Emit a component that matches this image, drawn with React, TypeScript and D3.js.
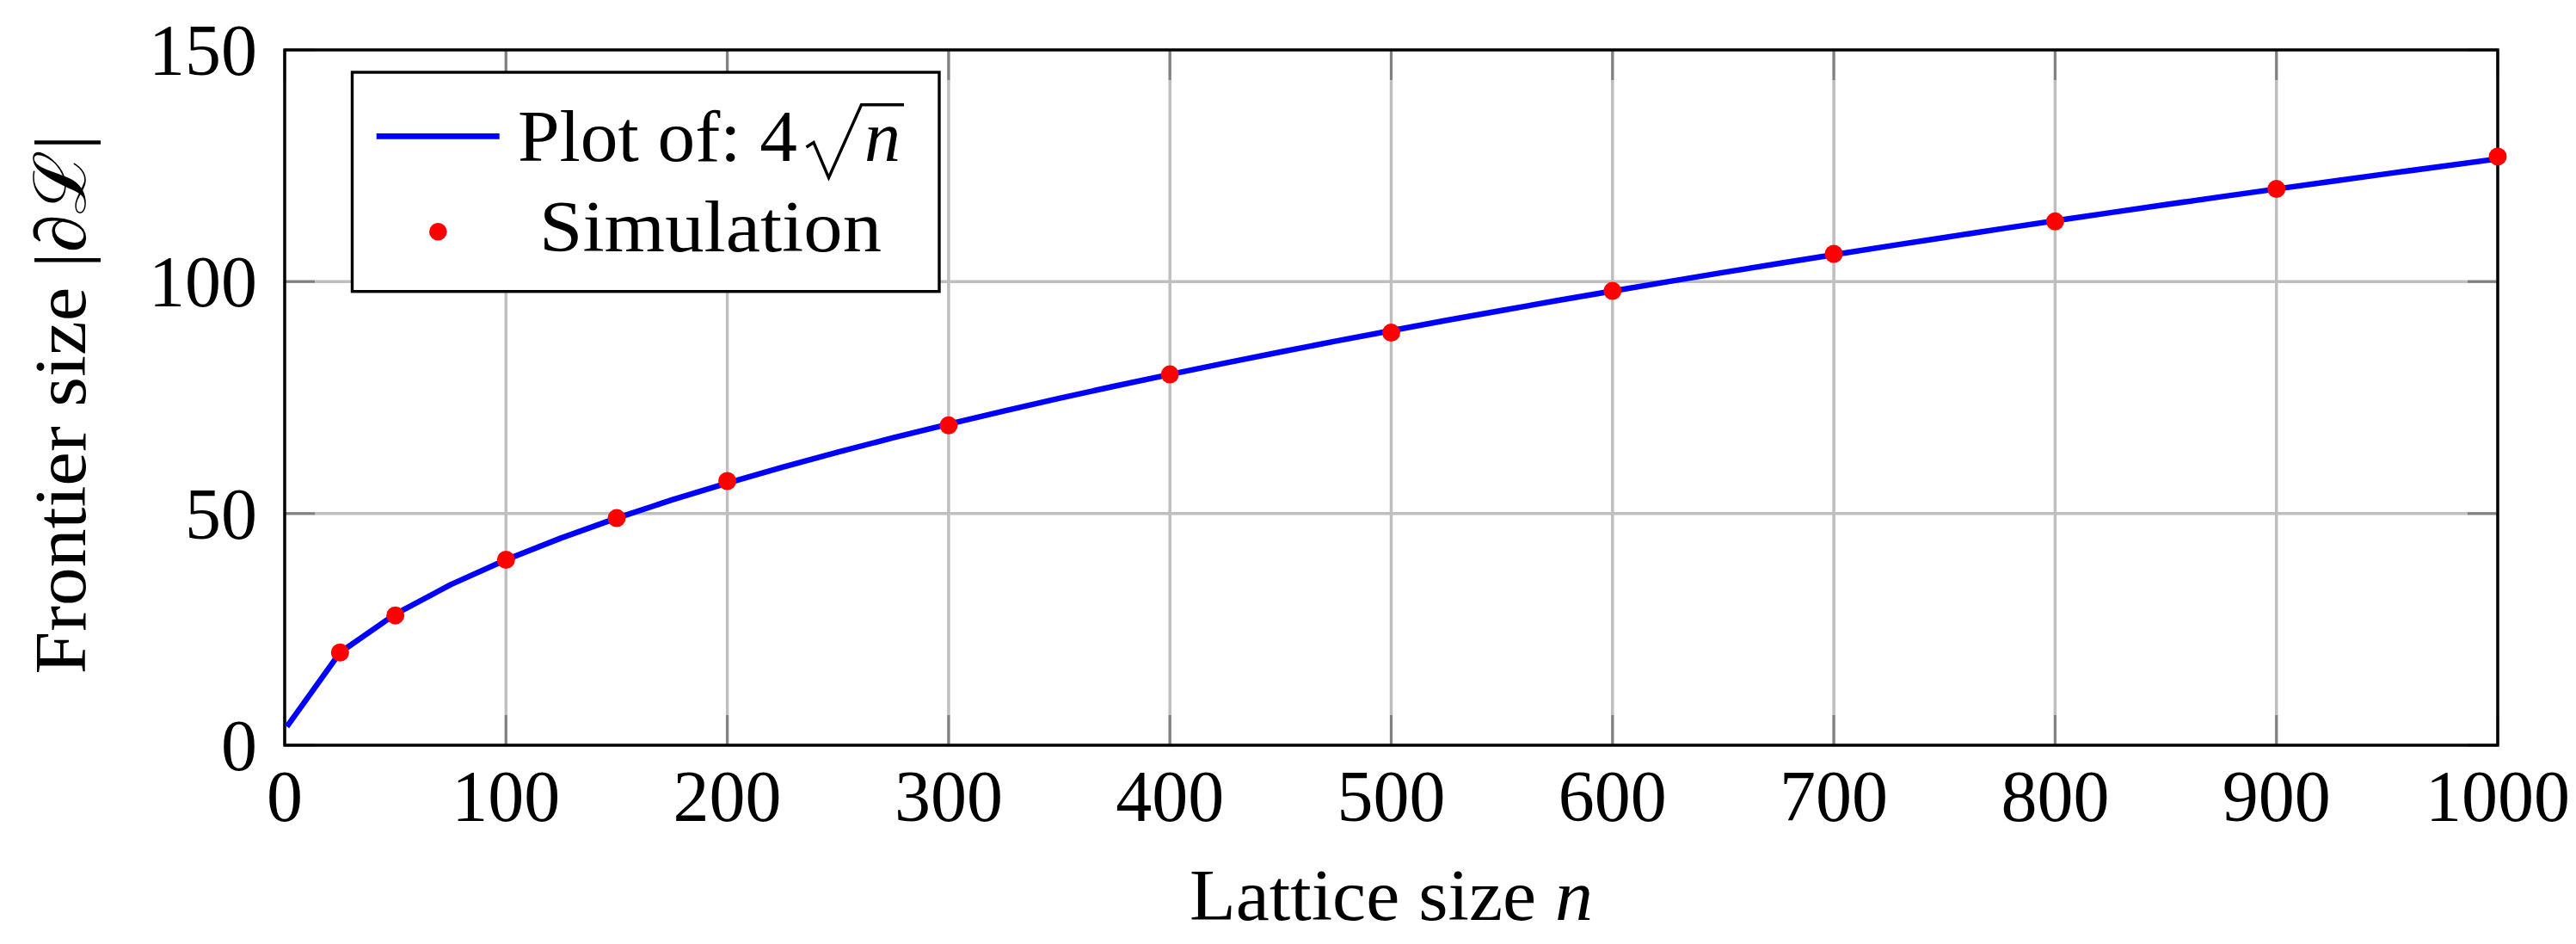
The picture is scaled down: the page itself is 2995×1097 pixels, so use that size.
import * as d3 from "d3"

// axis ticks
const xTicks = [0, 100, 200, 300, 400, 500, 600, 700, 800, 900, 1000]
const yTicks = [0, 50, 100, 150]

// blue reference curve (samples every 25)
const curveN = [
  1, 25, 50, 75, 100, 125, 150, 175, 200, 225, 250, 275, 300, 325, 350, 375, 400,
  425, 450, 475, 500, 525, 550, 575, 600, 625, 650, 675, 700, 725, 750, 775, 800,
  825, 850, 875, 900, 925, 950, 975, 1000,
]
const curveValues = [
  4, 20, 28.28, 34.64, 40, 44.72, 48.99, 52.92, 56.57, 60, 63.25, 66.33, 69.28,
  72.11, 74.83, 77.46, 80, 82.46, 84.85, 87.18, 89.44, 91.65, 93.81, 95.92, 97.98,
  100, 101.98, 103.92, 105.83, 107.7, 109.54, 111.36, 113.14, 114.89, 116.62,
  118.32, 120, 121.66, 123.29, 124.9, 126.49,
]

// red simulation dots
const simN = [25, 50, 100, 150, 200, 300, 400, 500, 600, 700, 800, 900, 1000]
const simValues = [20, 28, 40, 49, 57, 69, 80, 89, 98, 106, 113, 120, 127]

const legendLabels = ["Plot of: 4", "Simulation"]

const FONT = "'Liberation Serif', 'DejaVu Serif', serif"

export default function App() {
  const width = 2995
  const height = 1097
  const plot = { left: 331, right: 2904, top: 58, bottom: 866 }

  const x = d3.scaleLinear().domain([0, 1000]).range([plot.left, plot.right])
  const y = d3.scaleLinear().domain([0, 150]).range([plot.bottom, plot.top])

  const curvePath = d3
    .line<number>()
    .x((_, i) => x(curveN[i]))
    .y((d) => y(d))(curveValues) as string

  const tickLen = 35
  const gridColor = "#bfbfbf"
  const tickColor = "#808080"

  // legend box
  const lg = { left: 409.5, top: 84, right: 1092, bottom: 338.7 }
  const lgCenter = 826
  const row1 = 186.7
  const row2 = 292.3

  return (
    <svg
      width={width}
      height={height}
      style={{ position: "absolute", left: 0, top: 0, display: "block", background: "#fff" }}
      fontFamily={FONT}
    >
      {/* grid */}
      <g stroke={gridColor} strokeWidth={3.5}>
        {xTicks.map((t) => (
          <line key={"gx" + t} x1={x(t)} x2={x(t)} y1={plot.top} y2={plot.bottom} />
        ))}
        {yTicks.map((t) => (
          <line key={"gy" + t} x1={plot.left} x2={plot.right} y1={y(t)} y2={y(t)} />
        ))}
      </g>

      {/* inward ticks on all four sides */}
      <g stroke={tickColor} strokeWidth={3}>
        {xTicks.map((t) => (
          <g key={"tx" + t}>
            <line x1={x(t)} x2={x(t)} y1={plot.bottom} y2={plot.bottom - tickLen} />
            <line x1={x(t)} x2={x(t)} y1={plot.top} y2={plot.top + tickLen} />
          </g>
        ))}
        {yTicks.map((t) => (
          <g key={"ty" + t}>
            <line x1={plot.left} x2={plot.left + tickLen} y1={y(t)} y2={y(t)} />
            <line x1={plot.right} x2={plot.right - tickLen} y1={y(t)} y2={y(t)} />
          </g>
        ))}
      </g>

      {/* frame */}
      <rect
        x={plot.left}
        y={plot.top}
        width={plot.right - plot.left}
        height={plot.bottom - plot.top}
        fill="none"
        stroke="#000"
        strokeWidth={3.4}
      />

      {/* curve and simulation points */}
      <path d={curvePath} fill="none" stroke="#0000ff" strokeWidth={6.5} strokeLinejoin="round" />
      {simN.map((n, i) => (
        <circle key={"s" + n} cx={x(n)} cy={y(simValues[i])} r={10.5} fill="#ff0000" />
      ))}

      {/* tick labels */}
      <g fontSize={84} fill="#000">
        {xTicks.map((t) => (
          <text key={"lx" + t} x={x(t)} y={953.5} textAnchor="middle">
            {t}
          </text>
        ))}
        {yTicks.map((t) => (
          <text key={"ly" + t} x={299} y={y(t) + 29} textAnchor="end">
            {t}
          </text>
        ))}
      </g>

      {/* axis labels */}
      <text
        x={(plot.left + plot.right) / 2}
        y={1068.7}
        textAnchor="middle"
        fontSize={84}
        textLength={469}
        lengthAdjust="spacingAndGlyphs"
      >
        Lattice size <tspan fontStyle="italic">n</tspan>
      </text>
      <text
        transform={`translate(99,470) rotate(-90)`}
        textAnchor="middle"
        fontSize={84}
        textLength={627}
        lengthAdjust="spacingAndGlyphs"
      >
        Frontier size |∂ℒ|
      </text>

      {/* legend */}
      <rect
        x={lg.left}
        y={lg.top}
        width={lg.right - lg.left}
        height={lg.bottom - lg.top}
        fill="#fff"
        stroke="#000"
        strokeWidth={3.4}
      />
      <line x1={437.7} x2={580.7} y1={158.3} y2={158.3} stroke="#0000ff" strokeWidth={6.7} />
      <circle cx={509.3} cy={269.3} r={10.3} fill="#ff0000" />
      <text x={602} y={row1} fontSize={84} textLength={325} lengthAdjust="spacingAndGlyphs">
        {legendLabels[0]}
      </text>
      <path
        d={`M937.5,171 L946,165.5 L963.5,206.5 L1001.5,121.7 L1051,121.7`}
        fill="none"
        stroke="#000"
        strokeWidth={3.4}
        strokeLinejoin="miter"
      />
      <text x={1005} y={row1} fontSize={84} fontStyle="italic">
        n
      </text>
      <text
        x={lgCenter}
        y={row2}
        fontSize={84}
        textAnchor="middle"
        textLength={398}
        lengthAdjust="spacingAndGlyphs"
      >
        {legendLabels[1]}
      </text>
    </svg>
  )
}
